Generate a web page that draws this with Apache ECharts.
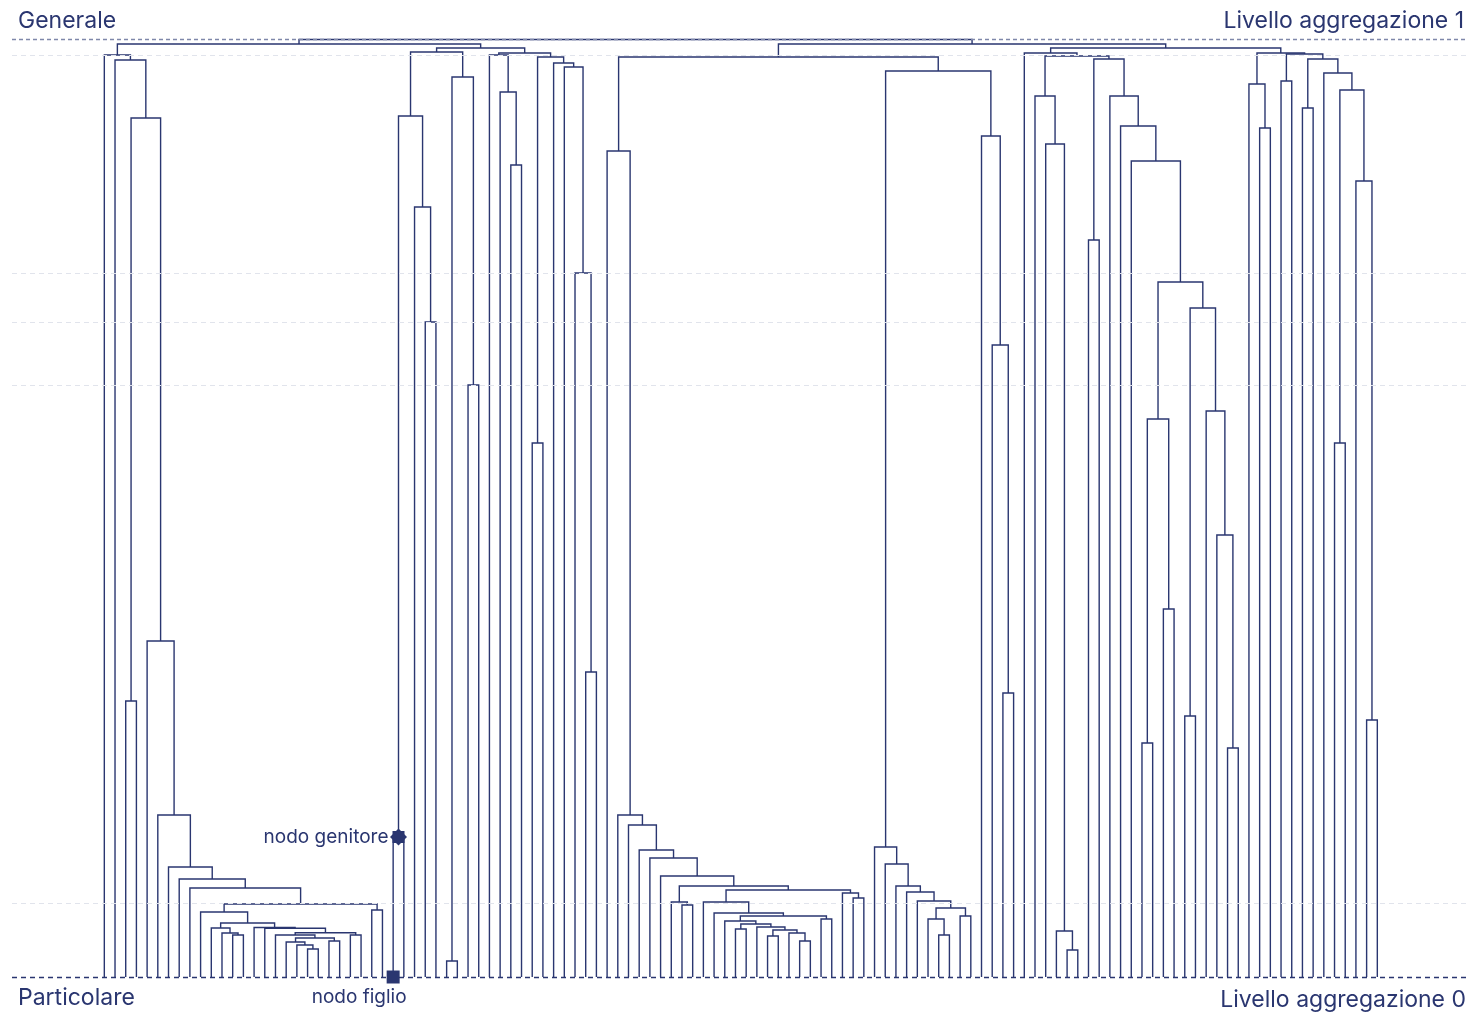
<!DOCTYPE html>
<html>
<head>
<meta charset="utf-8">
<script src="https://cdn.jsdelivr.net/npm/echarts@6/dist/echarts.min.js"></script>
<style>
  html, body { margin: 0; padding: 0; background: #ffffff; }
  #chart { width: 1473px; height: 1015px; }
</style>
</head>
<body>
<div id="chart"></div>
<script>
// Dendrogram: each internal node is [distance, left, right]; a leaf is 0.
const L = 0;

// leaves 0–26
const clusterA = [92.2, L, [91.7, L, [85.9, [27.6, L, L], [33.6, L, [16.2, L, [11.0, L, [9.8, L, [8.9, L,
  [7.3,
    [6.5, L, [5.4,
      [4.9, L, [4.4, L, [4.2, L, L]]],
      [4.95, L, [4.87, L, [4.43,
        [4.2, L, [3.9, [3.5, L, [3.2, L, [2.8, L, L]]], [3.6, L, L]]],
        [4.2, L, L]]]]]],
    [6.7, L, L]]]]]]]]]];

// leaves 27–46
const clusterB = [92.9,
  [92.5, [86.1, [14.0, L, L], [77.0, L, [65.5, L, L]]], [90.0, [1.6, L, L], [59.2, L, L]]],
  [92.4, [92.2, L, [88.5, L, [81.2, L, L]]],
         [92.0, [53.4, L, L], [91.4, L, [91.0, L, [70.4, L, [30.5, L, L]]]]]]];

// leaves 47–71
const clusterC1 = [82.6, L, [16.2, L, [15.2, L, [12.7, L, [11.9, L, [10.1, L, [9.1,
  [7.5, L, [7.2, L, L]],
  [8.7,
    [7.5, L, [6.4, L, [6.1,
      [5.6, L, [5.3, [4.8, L, L], [5.0, L, [4.7, [4.1, L, L], [4.4, L, [3.6, L, L]]]]]],
      [5.8, L, L]]]],
    [8.4, L, [7.9, L, L]]]]]]]]]];

// leaves 72–85
const clusterC2 = [90.6,
  [13.0, L, [11.3, L, [9.1, L, [8.5, L, [7.6, L, [6.9, [5.8, L, [4.2, L, L]], [6.1, L, L]]]]]]],
  [84.1, L, [63.2, L, [28.4, L, L]]]];

// leaves 86–106
const clusterD = [92.4, L, [92.1,
  [88.1, L, [83.3, L, [4.6, L, [2.7, L, L]]]],
  [91.8, [73.7, L, L], [88.1, L, [85.1, L, [81.6, L, [69.5,
    [55.8, [23.4, L, L], [36.8, L, L]],
    [66.9, [26.1, L, L], [56.6, L, [44.2, L, [22.9, L, L]]]]]]]]]]];

// leaves 107–119
const clusterE = [92.4,
  [89.3, L, [84.9, L, L]],
  [92.3, [89.6, L, L], [91.8, [86.9, L, L], [90.4, L, [88.7, [53.4, L, L], [79.6, L, [25.7, L, L]]]]]]];

// upper merges
const mergeCC = 92.0;      // clusterC1 + clusterC2
const mergeDE = 92.9;      // clusterD + clusterE
const mergeLeft = 93.3;    // clusterA + clusterB
const mergeRight = 93.3;   // C + DE
const rootHeight = 93.75;

// dashed reference levels
const guideLevels = [92.2, 70.4, 65.5, 59.2, 7.4];

// highlighted parent / child
const childLeaf = 27;
const parentNodeHeight = 14.0;

const tree = [rootHeight,
  [mergeLeft, clusterA, clusterB],
  [mergeRight, [mergeCC, clusterC1, clusterC2], [mergeDE, clusterD, clusterE]]];

// layout: leaves on consecutive integer positions, parents centred over children
const links = [];
let leafIndex = 0;
function place(node) {
  if (node === L) { return { x: leafIndex++, h: 0 }; }
  const a = place(node[1]);
  const b = place(node[2]);
  links.push([a.x, a.h, b.x, b.h, node[0]]);
  return { x: (a.x + b.x) / 2, h: node[0] };
}
place(tree);
const leafCount = leafIndex;

const ink = '#2a3670';
const font = 'Inter';
const chart = echarts.init(document.getElementById('chart'));

const guideLines = guideLevels.map(v => ({
  yAxis: v,
  lineStyle: { color: '#e1e4ec', type: [5, 4], width: 1 }
}));
guideLines.push({ yAxis: rootHeight, lineStyle: { color: '#7f88aa', type: [4, 3], width: 1.3 } });
guideLines.push({ yAxis: 0, lineStyle: { color: ink, type: [5, 4], width: 1.3 } });

chart.setOption({
  animation: false,
  grid: { left: 12, right: 7, top: 39.5, bottom: 38 },
  xAxis: { type: 'value', min: -8.63, max: leafCount - 1 + 8.29, show: false },
  yAxis: { type: 'value', min: 0, max: rootHeight, show: false },
  graphic: [
    { type: 'text', left: 18, top: 10, style: { text: 'Generale', font: '23px ' + font, fill: ink } },
    { type: 'text', right: 9, top: 10, style: { text: 'Livello aggregazione 1', font: '23px ' + font, fill: ink } },
    { type: 'text', left: 18, top: 987, style: { text: 'Particolare', font: '23px ' + font, fill: ink } },
    { type: 'text', right: 7, top: 989, style: { text: 'Livello aggregazione 0', font: '23px ' + font, fill: ink } }
  ],
  series: [
    {
      type: 'line',
      data: [],
      silent: true,
      markLine: { symbol: 'none', silent: true, label: { show: false }, data: guideLines }
    },
    {
      type: 'custom',
      data: links,
      encode: { x: [0, 2], y: [1, 3, 4] },
      renderItem: function (params, api) {
        const p1 = api.coord([api.value(0), api.value(1)]);
        const p2 = api.coord([api.value(0), api.value(4)]);
        const p3 = api.coord([api.value(2), api.value(4)]);
        const p4 = api.coord([api.value(2), api.value(3)]);
        return {
          type: 'polyline',
          shape: { points: [p1, p2, p3, p4] },
          style: { stroke: ink, lineWidth: 1.4, fill: null }
        };
      },
      z: 3
    },
    {
      type: 'scatter',
      z: 5,
      data: [
        {
          value: [childLeaf, 0],
          symbol: 'rect', symbolSize: 13,
          label: { show: true, formatter: 'nodo figlio', position: 'bottom', distance: 4, offset: [-34, 0],
                   color: ink, fontSize: 19, fontFamily: font }
        },
        {
          value: [childLeaf + 0.5, parentNodeHeight],
          symbol: 'diamond', symbolSize: 17
        },
        {
          value: [childLeaf + 0.5, parentNodeHeight],
          symbol: 'rect', symbolSize: 12,
          label: { show: true, formatter: 'nodo genitore', position: 'left', distance: 4,
                   color: ink, fontSize: 19, fontFamily: font }
        }
      ],
      itemStyle: { color: ink, opacity: 1 }
    }
  ]
});
</script>
</body>
</html>
